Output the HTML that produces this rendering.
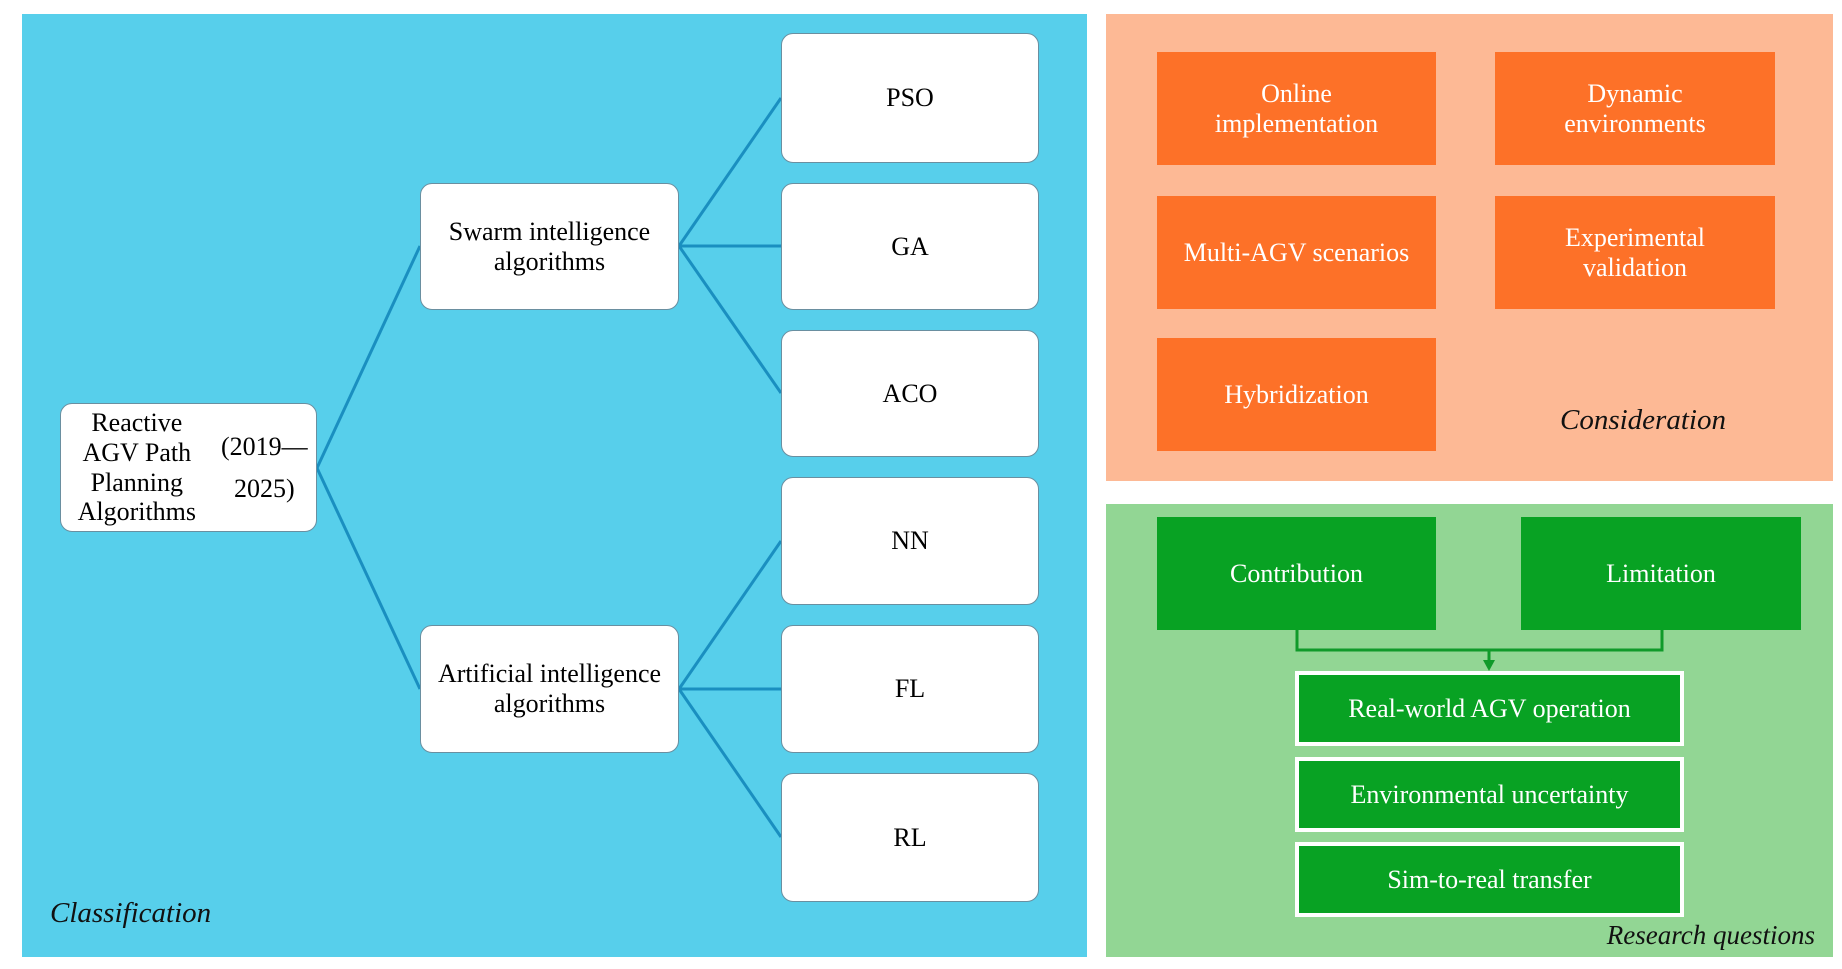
<!DOCTYPE html>
<html><head><meta charset="utf-8"><style>
body{margin:0;width:1842px;height:969px;background:#fff;position:relative;overflow:hidden;font-family:"Liberation Serif",serif;}
div.a{position:absolute;box-sizing:border-box;display:flex;align-items:center;justify-content:center;text-align:center;line-height:1.15;font-size:26px;}
.w{background:#fff;border:1.5px solid #6a8fa0;border-radius:12px;color:#000;}
.o{background:#FD7128;color:#fff;}
.g{background:#08A223;color:#fff;}
.gb{background:#08A223;color:#fff;border:4px solid #fff;}
.lbl{position:absolute;font-style:italic;font-size:29px;color:#111;}
</style></head><body>
<div class="a" style="left:22px;top:14px;width:1065px;height:943px;background:#57CFEB"></div>
<div class="a" style="left:1106px;top:14px;width:727px;height:467px;background:#FDB995"></div>
<div class="a" style="left:1106px;top:504px;width:727px;height:453px;background:#92D694"></div>
<svg style="position:absolute;left:0;top:0" width="1842" height="969">
<g stroke="#1a8fc0" stroke-width="3" fill="none">
<line x1="317" y1="468" x2="420" y2="246"/><line x1="317" y1="468" x2="420" y2="689"/>
<line x1="679" y1="246" x2="781" y2="98"/><line x1="679" y1="246" x2="781" y2="246"/><line x1="679" y1="246" x2="781" y2="393"/>
<line x1="679" y1="689" x2="781" y2="541"/><line x1="679" y1="689" x2="781" y2="689"/><line x1="679" y1="689" x2="781" y2="837"/>
</g>
<g stroke="#109a2a" stroke-width="3" fill="none">
<polyline points="1297,630 1297,650 1662,650 1662,630"/><line x1="1489" y1="650" x2="1489" y2="662"/>
</g>
<polygon points="1483,660 1495,660 1489,671" fill="#109a2a"/>
</svg>
<div class="a w" style="left:60px;top:403px;width:257px;height:129px">Reactive AGV Path<br>Planning Algorithms<br><span style="line-height:1.6">(2019—2025)</span></div>
<div class="a w" style="left:420px;top:183px;width:259px;height:127px">Swarm intelligence<br>algorithms</div>
<div class="a w" style="left:420px;top:625px;width:259px;height:128px">Artificial intelligence<br>algorithms</div>
<div class="a w" style="left:781px;top:33px;width:258px;height:130px">PSO</div>
<div class="a w" style="left:781px;top:183px;width:258px;height:127px">GA</div>
<div class="a w" style="left:781px;top:330px;width:258px;height:127px">ACO</div>
<div class="a w" style="left:781px;top:477px;width:258px;height:128px">NN</div>
<div class="a w" style="left:781px;top:625px;width:258px;height:128px">FL</div>
<div class="a w" style="left:781px;top:773px;width:258px;height:129px">RL</div>
<div class="lbl" style="left:50px;top:897px">Classification</div>
<div class="a o" style="left:1157px;top:52px;width:279px;height:113px">Online<br>implementation</div>
<div class="a o" style="left:1495px;top:52px;width:280px;height:113px">Dynamic<br>environments</div>
<div class="a o" style="left:1157px;top:196px;width:279px;height:113px">Multi-AGV scenarios</div>
<div class="a o" style="left:1495px;top:196px;width:280px;height:113px">Experimental<br>validation</div>
<div class="a o" style="left:1157px;top:338px;width:279px;height:113px">Hybridization</div>
<div class="lbl" style="left:1560px;top:404px">Consideration</div>
<div class="a g" style="left:1157px;top:517px;width:279px;height:113px">Contribution</div>
<div class="a g" style="left:1521px;top:517px;width:280px;height:113px">Limitation</div>
<div class="a gb" style="left:1295px;top:671px;width:389px;height:75px">Real-world AGV operation</div>
<div class="a gb" style="left:1295px;top:757px;width:389px;height:75px">Environmental uncertainty</div>
<div class="a gb" style="left:1295px;top:842px;width:389px;height:75px">Sim-to-real transfer</div>
<div class="lbl" style="right:27px;top:920px;font-size:27px">Research questions</div>
</body></html>
